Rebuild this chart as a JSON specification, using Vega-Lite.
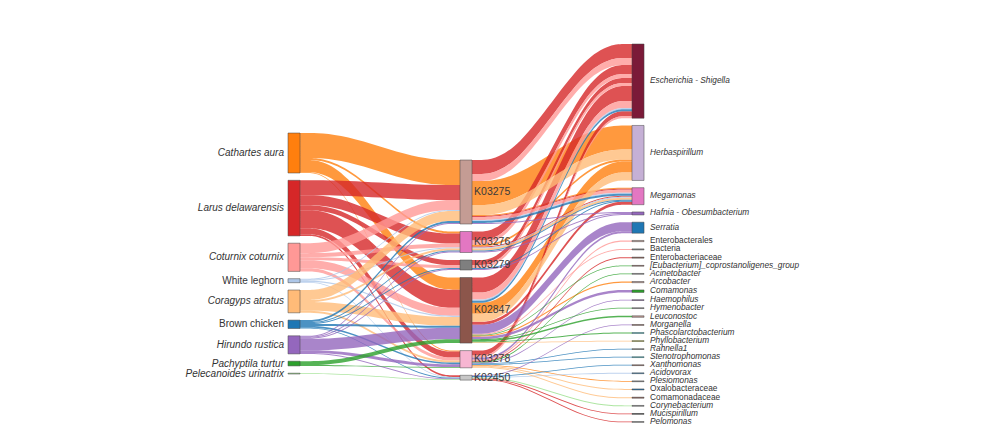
{
  "$schema": "https://vega.github.io/schema/vega-lite/v6.json",
  "width": 987,
  "height": 432,
  "autosize": {"type": "fit", "contains": "padding"},
  "padding": 0,
  "background": "white",
  "config": {"view": {"stroke": null}},
  "datasets": {
    "nodes": [
      {"name": "Cathartes aura", "col": 0, "ord": 0},
      {"name": "Larus delawarensis", "col": 0, "ord": 1},
      {"name": "Coturnix coturnix", "col": 0, "ord": 2},
      {"name": "White leghorn", "col": 0, "ord": 3},
      {"name": "Coragyps atratus", "col": 0, "ord": 4},
      {"name": "Brown chicken", "col": 0, "ord": 5},
      {"name": "Hirundo rustica", "col": 0, "ord": 6},
      {"name": "Pachyptila turtur", "col": 0, "ord": 7},
      {"name": "Pelecanoides urinatrix", "col": 0, "ord": 8},
      {"name": "K03275", "col": 1, "ord": 0},
      {"name": "K03276", "col": 1, "ord": 1},
      {"name": "K03279", "col": 1, "ord": 2},
      {"name": "K02847", "col": 1, "ord": 3},
      {"name": "K03278", "col": 1, "ord": 4},
      {"name": "K02450", "col": 1, "ord": 5},
      {"name": "Escherichia - Shigella", "col": 2, "ord": 0},
      {"name": "Herbaspirillum", "col": 2, "ord": 1},
      {"name": "Megamonas", "col": 2, "ord": 2},
      {"name": "Hafnia - Obesumbacterium", "col": 2, "ord": 3},
      {"name": "Serratia", "col": 2, "ord": 4},
      {"name": "Enterobacterales", "col": 2, "ord": 5},
      {"name": "Bacteria", "col": 2, "ord": 6},
      {"name": "Enterobacteriaceae", "col": 2, "ord": 7},
      {"name": "[Eubacterium]_coprostanoligenes_group", "col": 2, "ord": 8},
      {"name": "Acinetobacter", "col": 2, "ord": 9},
      {"name": "Arcobacter", "col": 2, "ord": 10},
      {"name": "Comamonas", "col": 2, "ord": 11},
      {"name": "Haemophilus", "col": 2, "ord": 12},
      {"name": "Hymenobacter", "col": 2, "ord": 13},
      {"name": "Leuconostoc", "col": 2, "ord": 14},
      {"name": "Morganella", "col": 2, "ord": 15},
      {"name": "Phascolarctobacterium", "col": 2, "ord": 16},
      {"name": "Phyllobacterium", "col": 2, "ord": 17},
      {"name": "Rahnella1", "col": 2, "ord": 18},
      {"name": "Stenotrophomonas", "col": 2, "ord": 19},
      {"name": "Xanthomonas", "col": 2, "ord": 20},
      {"name": "Acidovorax", "col": 2, "ord": 21},
      {"name": "Plesiomonas", "col": 2, "ord": 22},
      {"name": "Oxalobacteraceae", "col": 2, "ord": 23},
      {"name": "Comamonadaceae", "col": 2, "ord": 24},
      {"name": "Corynebacterium", "col": 2, "ord": 25},
      {"name": "Mucispirillum", "col": 2, "ord": 26},
      {"name": "Pelomonas", "col": 2, "ord": 27}
    ],
    "flows": [
      {"s": "Cathartes aura", "k": "K03275", "g": "Herbaspirillum", "v": 24},
      {"s": "Cathartes aura", "k": "K03275", "g": "Megamonas", "v": 1},
      {"s": "Cathartes aura", "k": "K03276", "g": "Herbaspirillum", "v": 2},
      {"s": "Cathartes aura", "k": "K02847", "g": "Herbaspirillum", "v": 11},
      {"s": "Cathartes aura", "k": "K02847", "g": "Arcobacter", "v": 1.2},
      {"s": "Cathartes aura", "k": "K03278", "g": "Plesiomonas", "v": 0.8},
      {"s": "Larus delawarensis", "k": "K03275", "g": "Escherichia - Shigella", "v": 14},
      {"s": "Larus delawarensis", "k": "K03275", "g": "Megamonas", "v": 1},
      {"s": "Larus delawarensis", "k": "K03276", "g": "Escherichia - Shigella", "v": 9},
      {"s": "Larus delawarensis", "k": "K03276", "g": "Megamonas", "v": 1},
      {"s": "Larus delawarensis", "k": "K03279", "g": "Escherichia - Shigella", "v": 5},
      {"s": "Larus delawarensis", "k": "K02847", "g": "Escherichia - Shigella", "v": 15},
      {"s": "Larus delawarensis", "k": "K02847", "g": "Megamonas", "v": 3},
      {"s": "Larus delawarensis", "k": "K03278", "g": "Escherichia - Shigella", "v": 5},
      {"s": "Larus delawarensis", "k": "K03278", "g": "Enterobacteriaceae", "v": 1},
      {"s": "Larus delawarensis", "k": "K02450", "g": "Mucispirillum", "v": 0.8},
      {"s": "Larus delawarensis", "k": "K02450", "g": "Pelomonas", "v": 0.8},
      {"s": "Coturnix coturnix", "k": "K03275", "g": "Escherichia - Shigella", "v": 7},
      {"s": "Coturnix coturnix", "k": "K03275", "g": "Megamonas", "v": 3},
      {"s": "Coturnix coturnix", "k": "K03276", "g": "Escherichia - Shigella", "v": 4},
      {"s": "Coturnix coturnix", "k": "K03279", "g": "Escherichia - Shigella", "v": 3},
      {"s": "Coturnix coturnix", "k": "K02847", "g": "Escherichia - Shigella", "v": 7},
      {"s": "Coturnix coturnix", "k": "K02847", "g": "Bacteria", "v": 1},
      {"s": "Coturnix coturnix", "k": "K03278", "g": "Escherichia - Shigella", "v": 2},
      {"s": "Coturnix coturnix", "k": "K03278", "g": "Enterobacterales", "v": 1.2},
      {"s": "White leghorn", "k": "K03275", "g": "Megamonas", "v": 1},
      {"s": "White leghorn", "k": "K03276", "g": "Megamonas", "v": 1},
      {"s": "White leghorn", "k": "K02847", "g": "Escherichia - Shigella", "v": 1.2},
      {"s": "White leghorn", "k": "K02450", "g": "Acidovorax", "v": 0.8},
      {"s": "Coragyps atratus", "k": "K03275", "g": "Herbaspirillum", "v": 10},
      {"s": "Coragyps atratus", "k": "K03276", "g": "Megamonas", "v": 2},
      {"s": "Coragyps atratus", "k": "K02847", "g": "Herbaspirillum", "v": 8},
      {"s": "Coragyps atratus", "k": "K02847", "g": "Phyllobacterium", "v": 0.8},
      {"s": "Coragyps atratus", "k": "K03278", "g": "Oxalobacteraceae", "v": 1},
      {"s": "Coragyps atratus", "k": "K03278", "g": "Comamonadaceae", "v": 1},
      {"s": "Brown chicken", "k": "K03275", "g": "Megamonas", "v": 2},
      {"s": "Brown chicken", "k": "K03276", "g": "Megamonas", "v": 1},
      {"s": "Brown chicken", "k": "K03279", "g": "Megamonas", "v": 1},
      {"s": "Brown chicken", "k": "K02847", "g": "Escherichia - Shigella", "v": 2},
      {"s": "Brown chicken", "k": "K03278", "g": "Rahnella1", "v": 0.8},
      {"s": "Brown chicken", "k": "K03278", "g": "Stenotrophomonas", "v": 0.8},
      {"s": "Brown chicken", "k": "K02450", "g": "Xanthomonas", "v": 0.8},
      {"s": "Hirundo rustica", "k": "K03275", "g": "Hafnia - Obesumbacterium", "v": 1},
      {"s": "Hirundo rustica", "k": "K03276", "g": "Hafnia - Obesumbacterium", "v": 1},
      {"s": "Hirundo rustica", "k": "K03279", "g": "Hafnia - Obesumbacterium", "v": 1},
      {"s": "Hirundo rustica", "k": "K02847", "g": "Serratia", "v": 9},
      {"s": "Hirundo rustica", "k": "K02847", "g": "Comamonas", "v": 2.5},
      {"s": "Hirundo rustica", "k": "K03278", "g": "Serratia", "v": 2},
      {"s": "Hirundo rustica", "k": "K03278", "g": "Haemophilus", "v": 0.8},
      {"s": "Hirundo rustica", "k": "K02450", "g": "Morganella", "v": 0.8},
      {"s": "Pachyptila turtur", "k": "K02847", "g": "Leuconostoc", "v": 1.5},
      {"s": "Pachyptila turtur", "k": "K02847", "g": "Phascolarctobacterium", "v": 0.8},
      {"s": "Pachyptila turtur", "k": "K02847", "g": "Hymenobacter", "v": 0.8},
      {"s": "Pachyptila turtur", "k": "K02847", "g": "[Eubacterium]_coprostanoligenes_group", "v": 0.8},
      {"s": "Pachyptila turtur", "k": "K03278", "g": "Acinetobacter", "v": 0.8},
      {"s": "Pelecanoides urinatrix", "k": "K02450", "g": "Corynebacterium", "v": 0.8}
    ]
  },
  "layer": [
    {
      "data": {"name": "flows"},
      "transform": [
        {"lookup": "s", "from": {"data": {"name": "nodes"}, "key": "name", "fields": ["ord"]}, "as": ["so"]},
        {"lookup": "k", "from": {"data": {"name": "nodes"}, "key": "name", "fields": ["ord"]}, "as": ["ko"]},
        {"aggregate": [{"op": "sum", "field": "v", "as": "v"}], "groupby": ["s", "k", "so", "ko"]},
        {"window": [{"op": "sum", "field": "v", "as": "cs"}], "sort": [{"field": "so"}, {"field": "ko"}], "frame": [null, 0]},
        {"window": [{"op": "sum", "field": "v", "as": "ct"}], "sort": [{"field": "ko"}, {"field": "so"}], "frame": [null, 0]},
        {"calculate": "133 + datum.cs - datum.v + 7.3 * datum.so", "as": "sy0"},
        {"calculate": "160 + datum.ct - datum.v + 7.5 * datum.ko", "as": "ty0"},
        {"fold": ["p0", "p1", "p2", "p3"], "as": ["pt", "unused"]},
        {"calculate": "indexof(['p0','p1','p2','p3'], datum.pt)", "as": "t"},
        {"calculate": "[0.07, 0.321, 0.749, 1][datum.t]", "as": "x"},
        {"calculate": "datum.t < 2 ? datum.sy0 : datum.ty0", "as": "ya"},
        {"calculate": "datum.ya + datum.v", "as": "yb"}
      ],
      "mark": {"type": "area", "interpolate": "basis", "opacity": 0.8},
      "encoding": {
        "x": {"field": "x", "type": "quantitative", "scale": {"domain": [-1.6744, 4.064], "nice": false, "zero": false}, "axis": null},
        "y": {"field": "ya", "type": "quantitative", "stack": null, "scale": {"domain": [0, 432], "reverse": true, "nice": false, "zero": false}, "axis": null},
        "y2": {"field": "yb"},
        "detail": {"field": "k"},
        "color": {
          "field": "s", "type": "nominal", "legend": null,
          "scale": {
            "domain": ["Cathartes aura","Larus delawarensis","Coturnix coturnix","White leghorn","Coragyps atratus","Brown chicken","Hirundo rustica","Pachyptila turtur","Pelecanoides urinatrix","K03275","K03276","K03279","K02847","K03278","K02450","Escherichia - Shigella","Herbaspirillum","Megamonas","Hafnia - Obesumbacterium","Serratia","Enterobacterales","Bacteria","Enterobacteriaceae","[Eubacterium]_coprostanoligenes_group","Acinetobacter","Arcobacter","Comamonas","Haemophilus","Hymenobacter","Leuconostoc","Morganella","Phascolarctobacterium","Phyllobacterium","Rahnella1","Stenotrophomonas","Xanthomonas","Acidovorax","Plesiomonas","Oxalobacteraceae","Comamonadaceae","Corynebacterium","Mucispirillum","Pelomonas"],
            "range": ["#ff7f0e","#d62728","#ff9896","#aec7e8","#ffbb78","#1f77b4","#9467bd","#2ca02c","#98df8a","#c49c94","#e377c2","#7f7f7f","#8c564b","#f7b6d2","#c7c7c7","#7b1a38","#c5b0d5","#e377c2","#9467bd","#1f77b4","#c49c94","#7f7f7f","#8c564b","#8c564b","#7f7f7f","#c49c94","#2ca02c","#9467bd","#7f7f7f","#c49c94","#8c564b","#17becf","#bcbd22","#7f7f7f","#17becf","#8c564b","#1f77b4","#7f7f7f","#1f77b4","#8c564b","#7f7f7f","#111111","#7f7f7f"]
          }
        }
      }
    },
    {
      "data": {"name": "flows"},
      "transform": [
        {"lookup": "s", "from": {"data": {"name": "nodes"}, "key": "name", "fields": ["ord"]}, "as": ["so"]},
        {"lookup": "k", "from": {"data": {"name": "nodes"}, "key": "name", "fields": ["ord"]}, "as": ["ko"]},
        {"lookup": "g", "from": {"data": {"name": "nodes"}, "key": "name", "fields": ["ord"]}, "as": ["go"]},
        {"window": [{"op": "sum", "field": "v", "as": "cs"}], "sort": [{"field": "ko"}, {"field": "go"}, {"field": "so"}], "frame": [null, 0]},
        {"window": [{"op": "sum", "field": "v", "as": "ct"}], "sort": [{"field": "go"}, {"field": "ko"}, {"field": "so"}], "frame": [null, 0]},
        {"calculate": "160 + datum.cs - datum.v + 7.5 * datum.ko", "as": "sy0"},
        {"calculate": "44 + datum.ct - datum.v + 7.25 * datum.go", "as": "ty0"},
        {"fold": ["p0", "p1", "p2", "p3"], "as": ["pt", "unused"]},
        {"calculate": "indexof(['p0','p1','p2','p3'], datum.pt)", "as": "t"},
        {"calculate": "[1.07, 1.321, 1.749, 2][datum.t]", "as": "x"},
        {"calculate": "datum.t < 2 ? datum.sy0 : datum.ty0", "as": "ya"},
        {"calculate": "datum.ya + datum.v", "as": "yb"}
      ],
      "mark": {"type": "area", "interpolate": "basis", "opacity": 0.8},
      "encoding": {
        "x": {"field": "x", "type": "quantitative", "scale": {"domain": [-1.6744, 4.064], "nice": false, "zero": false}, "axis": null},
        "y": {"field": "ya", "type": "quantitative", "stack": null, "scale": {"domain": [0, 432], "reverse": true, "nice": false, "zero": false}, "axis": null},
        "y2": {"field": "yb"},
        "detail": [{"field": "k"}, {"field": "g"}],
        "color": {
          "field": "s", "type": "nominal", "legend": null,
          "scale": {
            "domain": ["Cathartes aura","Larus delawarensis","Coturnix coturnix","White leghorn","Coragyps atratus","Brown chicken","Hirundo rustica","Pachyptila turtur","Pelecanoides urinatrix","K03275","K03276","K03279","K02847","K03278","K02450","Escherichia - Shigella","Herbaspirillum","Megamonas","Hafnia - Obesumbacterium","Serratia","Enterobacterales","Bacteria","Enterobacteriaceae","[Eubacterium]_coprostanoligenes_group","Acinetobacter","Arcobacter","Comamonas","Haemophilus","Hymenobacter","Leuconostoc","Morganella","Phascolarctobacterium","Phyllobacterium","Rahnella1","Stenotrophomonas","Xanthomonas","Acidovorax","Plesiomonas","Oxalobacteraceae","Comamonadaceae","Corynebacterium","Mucispirillum","Pelomonas"],
            "range": ["#ff7f0e","#d62728","#ff9896","#aec7e8","#ffbb78","#1f77b4","#9467bd","#2ca02c","#98df8a","#c49c94","#e377c2","#7f7f7f","#8c564b","#f7b6d2","#c7c7c7","#7b1a38","#c5b0d5","#e377c2","#9467bd","#1f77b4","#c49c94","#7f7f7f","#8c564b","#8c564b","#7f7f7f","#c49c94","#2ca02c","#9467bd","#7f7f7f","#c49c94","#8c564b","#17becf","#bcbd22","#7f7f7f","#17becf","#8c564b","#1f77b4","#7f7f7f","#1f77b4","#8c564b","#7f7f7f","#111111","#7f7f7f"]
          }
        }
      }
    },
    {
      "data": {"name": "flows"},
      "transform": [
        {"fold": ["s", "k", "g"], "as": ["role", "name"]},
        {"aggregate": [{"op": "sum", "field": "v", "as": "v"}], "groupby": ["name"]},
        {"lookup": "name", "from": {"data": {"name": "nodes"}, "key": "name", "fields": ["col", "ord"]}},
        {"window": [{"op": "sum", "field": "v", "as": "c"}], "groupby": ["col"], "sort": [{"field": "ord"}], "frame": [null, 0]},
        {"calculate": "[133, 160, 44][datum.col] + datum.c - datum.v + [7.3, 7.5, 7.25][datum.col] * datum.ord", "as": "y0"},
        {"calculate": "datum.y0 + datum.v", "as": "y1"},
        {"calculate": "datum.y0 + datum.v / 2", "as": "ym"},
        {"calculate": "datum.col + 0.07", "as": "xr"}
      ],
      "encoding": {
        "y": {"field": "y0", "type": "quantitative", "scale": {"domain": [0, 432], "reverse": true, "nice": false, "zero": false}, "axis": null}
      },
      "layer": [
        {
          "mark": {"type": "rect", "stroke": "#444", "strokeWidth": 0.5, "opacity": 1},
          "encoding": {
            "x": {"field": "col", "type": "quantitative", "scale": {"domain": [-1.6744, 4.064], "nice": false, "zero": false}, "axis": null},
            "x2": {"field": "xr"},
            "y2": {"field": "y1"},
            "color": {
              "field": "name", "type": "nominal", "legend": null,
              "scale": {
                "domain": ["Cathartes aura","Larus delawarensis","Coturnix coturnix","White leghorn","Coragyps atratus","Brown chicken","Hirundo rustica","Pachyptila turtur","Pelecanoides urinatrix","K03275","K03276","K03279","K02847","K03278","K02450","Escherichia - Shigella","Herbaspirillum","Megamonas","Hafnia - Obesumbacterium","Serratia","Enterobacterales","Bacteria","Enterobacteriaceae","[Eubacterium]_coprostanoligenes_group","Acinetobacter","Arcobacter","Comamonas","Haemophilus","Hymenobacter","Leuconostoc","Morganella","Phascolarctobacterium","Phyllobacterium","Rahnella1","Stenotrophomonas","Xanthomonas","Acidovorax","Plesiomonas","Oxalobacteraceae","Comamonadaceae","Corynebacterium","Mucispirillum","Pelomonas"],
                "range": ["#ff7f0e","#d62728","#ff9896","#aec7e8","#ffbb78","#1f77b4","#9467bd","#2ca02c","#98df8a","#c49c94","#e377c2","#7f7f7f","#8c564b","#f7b6d2","#c7c7c7","#7b1a38","#c5b0d5","#e377c2","#9467bd","#1f77b4","#c49c94","#7f7f7f","#8c564b","#8c564b","#7f7f7f","#c49c94","#2ca02c","#9467bd","#7f7f7f","#c49c94","#8c564b","#17becf","#bcbd22","#7f7f7f","#17becf","#8c564b","#1f77b4","#7f7f7f","#1f77b4","#8c564b","#7f7f7f","#111111","#7f7f7f"]
              }
            }
          }
        },
        {
          "transform": [{"filter": "datum.col == 0 && indexof(['White leghorn','Brown chicken'], datum.name) < 0"}],
          "mark": {"type": "text", "align": "right", "baseline": "middle", "dx": -4, "font": "Liberation Sans", "fontSize": 10, "fontStyle": "italic", "color": "#333"},
          "encoding": {
            "x": {"field": "col", "type": "quantitative"},
            "y": {"field": "ym", "type": "quantitative"},
            "text": {"field": "name"}
          }
        },
        {
          "transform": [{"filter": "datum.col == 0 && indexof(['White leghorn','Brown chicken'], datum.name) >= 0"}],
          "mark": {"type": "text", "align": "right", "baseline": "middle", "dx": -4, "font": "Liberation Sans", "fontSize": 10, "color": "#333"},
          "encoding": {
            "x": {"field": "col", "type": "quantitative"},
            "y": {"field": "ym", "type": "quantitative"},
            "text": {"field": "name"}
          }
        },
        {
          "transform": [{"filter": "datum.col == 1"}],
          "mark": {"type": "text", "align": "left", "baseline": "middle", "dx": 2, "font": "Liberation Sans", "fontSize": 10.5, "color": "#3a3a3a"},
          "encoding": {
            "x": {"field": "xr", "type": "quantitative"},
            "y": {"field": "ym", "type": "quantitative"},
            "text": {"field": "name"}
          }
        },
        {
          "transform": [{"filter": "datum.col == 2 && indexof(['Enterobacterales','Bacteria','Enterobacteriaceae','Oxalobacteraceae','Comamonadaceae'], datum.name) < 0"}],
          "mark": {"type": "text", "align": "left", "baseline": "middle", "dx": 6, "font": "Liberation Sans", "fontSize": 8.3, "fontStyle": "italic", "color": "#333"},
          "encoding": {
            "x": {"field": "xr", "type": "quantitative"},
            "y": {"field": "ym", "type": "quantitative"},
            "text": {"field": "name"}
          }
        },
        {
          "transform": [{"filter": "datum.col == 2 && indexof(['Enterobacterales','Bacteria','Enterobacteriaceae','Oxalobacteraceae','Comamonadaceae'], datum.name) >= 0"}],
          "mark": {"type": "text", "align": "left", "baseline": "middle", "dx": 6, "font": "Liberation Sans", "fontSize": 8.3, "color": "#333"},
          "encoding": {
            "x": {"field": "xr", "type": "quantitative"},
            "y": {"field": "ym", "type": "quantitative"},
            "text": {"field": "name"}
          }
        }
      ]
    }
  ]
}
